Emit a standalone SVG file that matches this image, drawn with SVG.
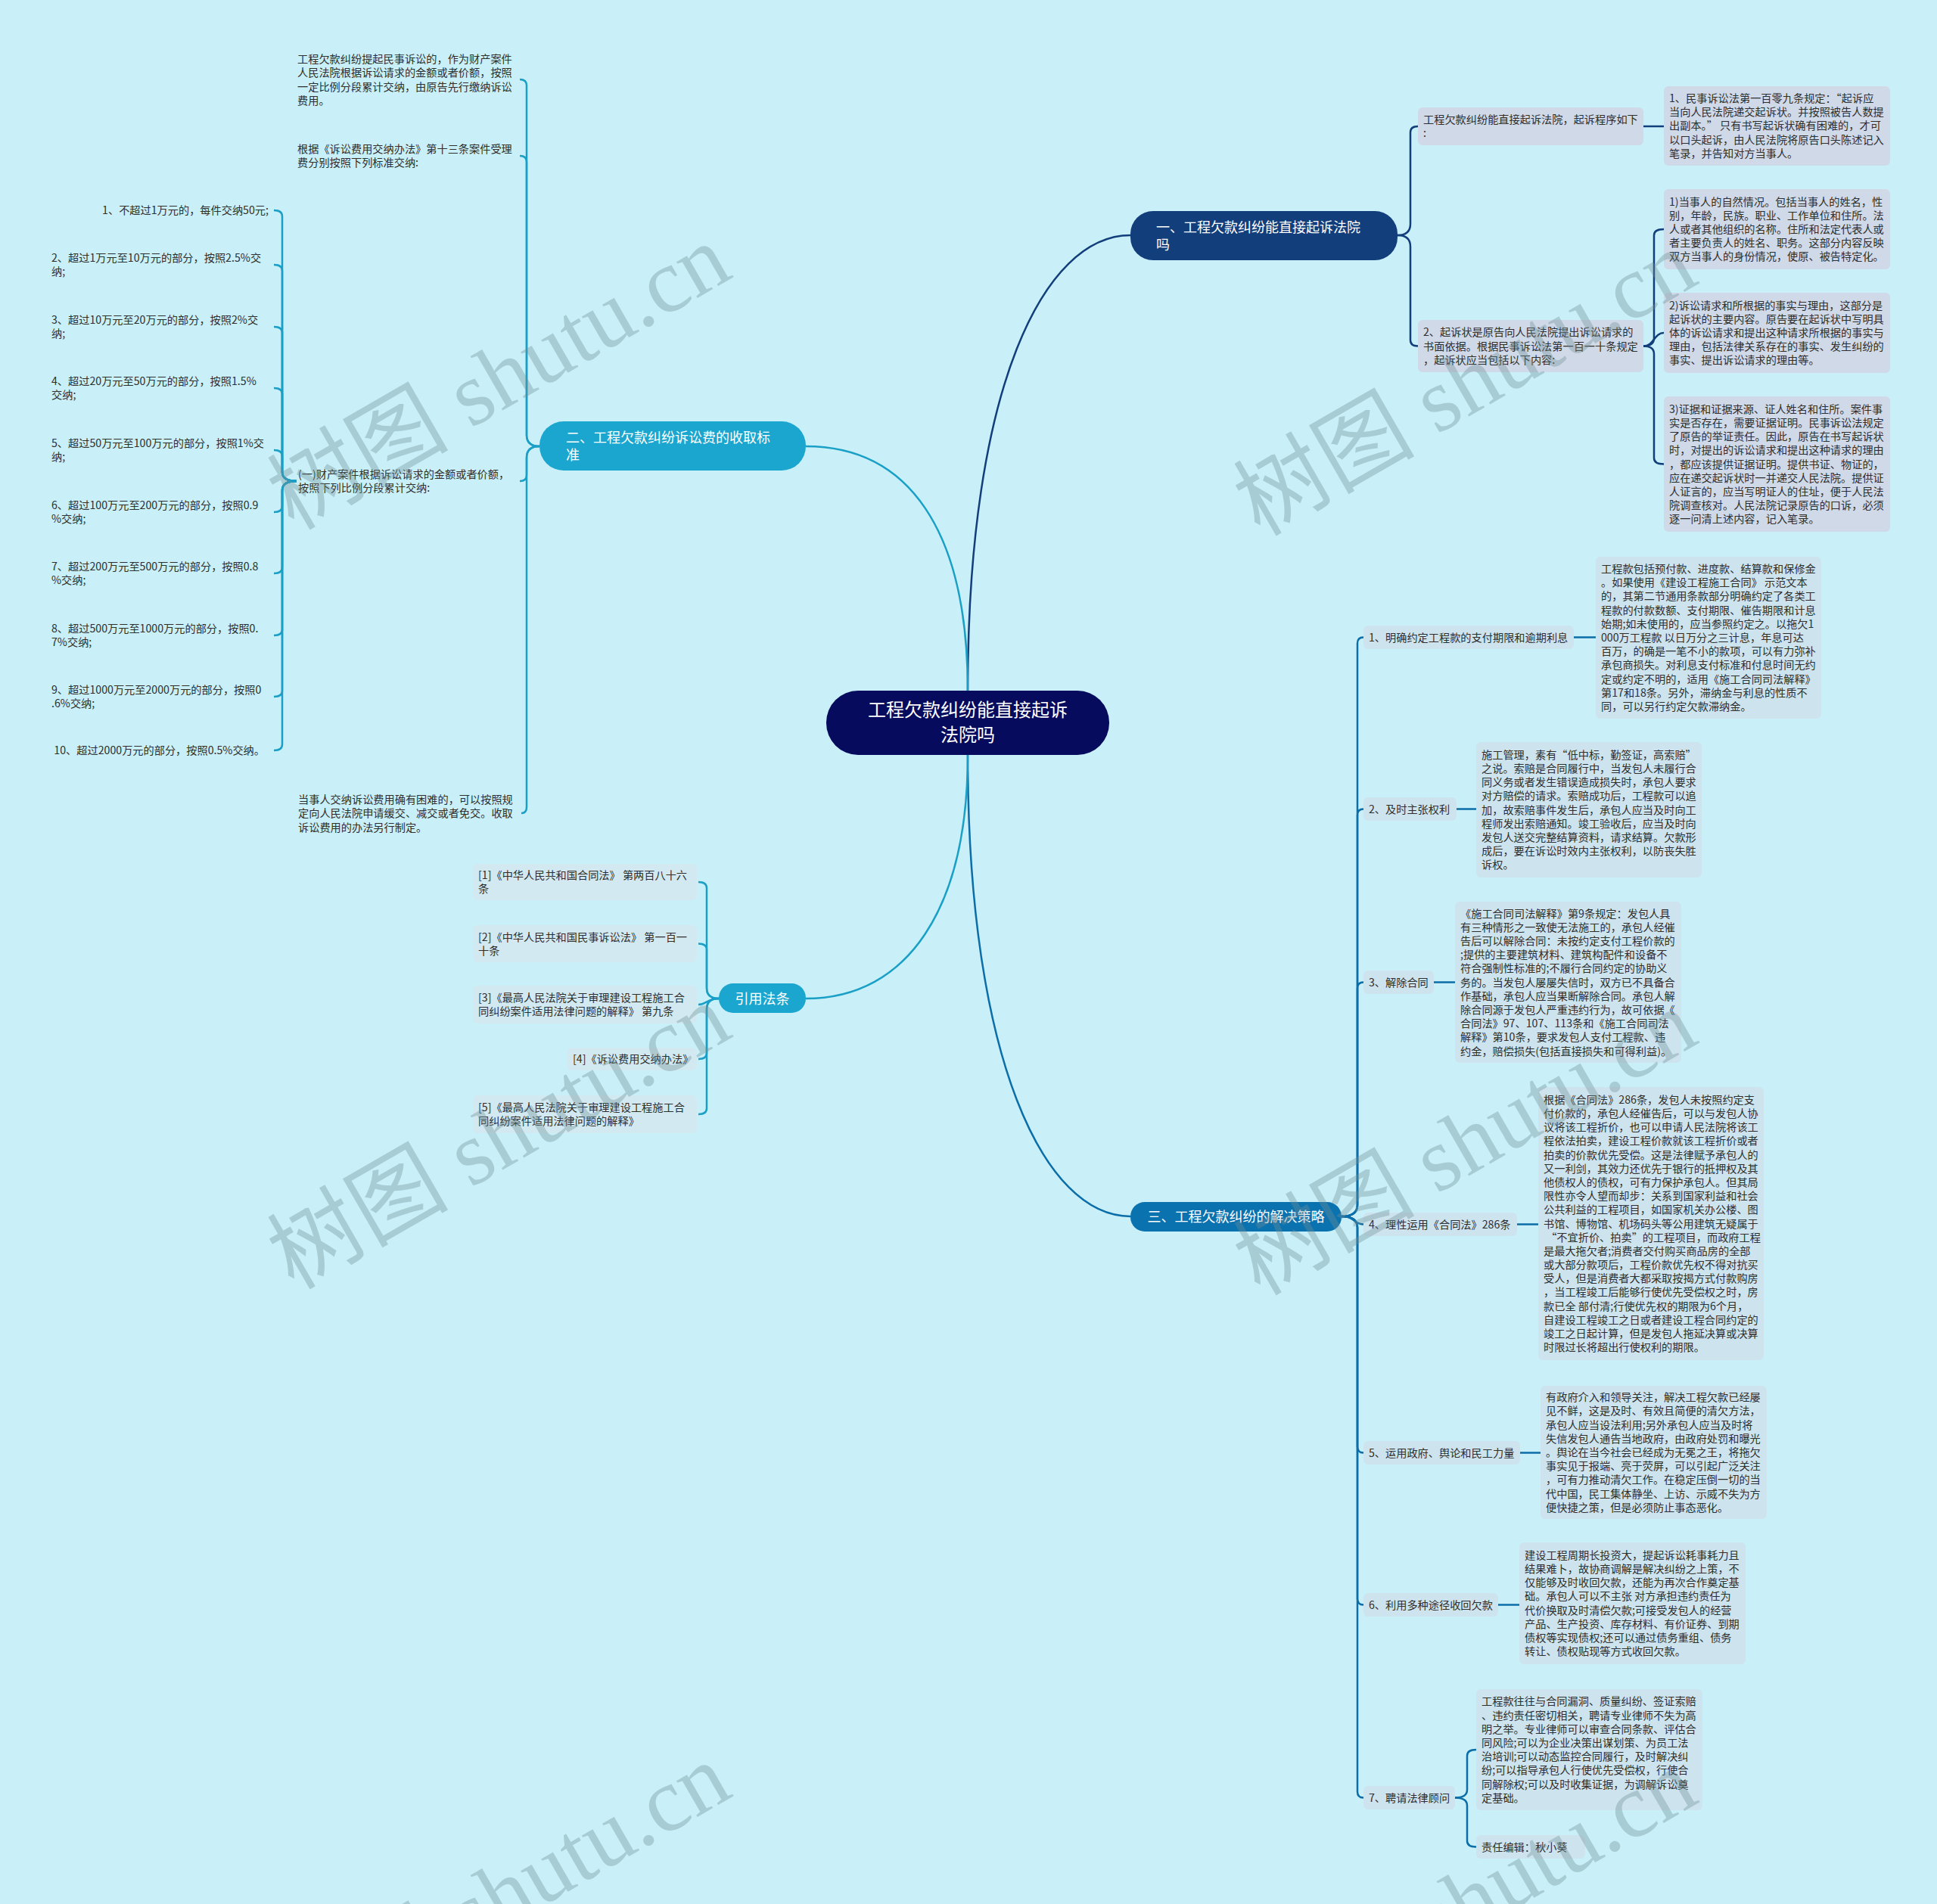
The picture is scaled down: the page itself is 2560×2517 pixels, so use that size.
<svg xmlns="http://www.w3.org/2000/svg" width="2560" height="2517" viewBox="0 0 2560 2517">
<style>
.t{font-family:"Noto Sans CJK SC","Liberation Sans",sans-serif;font-size:14.2px;fill:#2e2e2e}
.w{font-family:"Noto Sans CJK SC","Liberation Sans",sans-serif;fill:#ffffff}
.c1{fill:none;stroke:#133e7c;stroke-width:2.5}
.c2{fill:none;stroke:#1a9fc6;stroke-width:2.5}
.c3{fill:none;stroke:#0b6ea8;stroke-width:2.5}
.b1{fill:#cfd9e8}
.b3{fill:#cde4ef}
.br{fill:#d2e9f1}
.wm{font-family:"Liberation Serif","Noto Sans CJK SC",serif;font-size:120px;fill:#6f8c96;fill-opacity:0.36}
</style>
<rect x="0" y="0" width="2560" height="2517" fill="#c9f0f8"/>

<g id="connectors">
<path class="c1" d="M1279 913 C1279 511 1380 311 1494 311"/>
<path class="c2" d="M1279 913 C1279 700 1200 590 1065 590"/>
<path class="c3" d="M1279 998 C1279 1400 1380 1608 1494 1608"/>
<path class="c2" d="M1279 998 C1279 1200 1200 1320 1065 1320"/>
<path class="c1" d="M1847 311 Q1864 311 1864 296 L1864 175 Q1864 167 1874 167"/>
<path class="c1" d="M1847 311 Q1864 311 1864 326 L1864 449.5 Q1864 457.5 1874 457.5"/>
<path class="c1" d="M2172 167 L2199 167"/>
<path class="c1" d="M2172 457.5 Q2186 457.5 2186 447 L2186 311 Q2186 303 2199 303"/>
<path class="c1" d="M2172 457.5 C2186 457.5 2186 440 2199 440"/>
<path class="c1" d="M2172 457.5 Q2186 457.5 2186 468 L2186 605.5 Q2186 613.5 2199 613.5"/>
<path class="c2" d="M713 590 Q696 590 696 575 L696 113 Q696 105 687 105"/>
<path class="c2" d="M713 590 Q696 590 696 575 L696 214 Q696 206 687 206"/>
<path class="c2" d="M713 590 Q696 590 696 605 L696 628 Q696 636 687 636"/>
<path class="c2" d="M713 590 Q696 590 696 605 L696 1067 Q696 1075 689 1075"/>
<path class="c2" d="M392 636 L380 636"/>
<path class="c2" d="M392 636 Q373 636 373 624 L373 286 Q373 278 362 278"/>
<path class="c2" d="M392 636 Q373 636 373 624 L373 358 Q373 350 362 350"/>
<path class="c2" d="M392 636 Q373 636 373 624 L373 440 Q373 432 362 432"/>
<path class="c2" d="M392 636 Q373 636 373 624 L373 521 Q373 513 362 513"/>
<path class="c2" d="M392 636 Q373 636 373 624 L373 603 Q373 595 362 595"/>
<path class="c2" d="M392 636 Q373 636 373 648 L373 669 Q373 677 362 677"/>
<path class="c2" d="M392 636 Q373 636 373 648 L373 750 Q373 758 362 758"/>
<path class="c2" d="M392 636 Q373 636 373 648 L373 832 Q373 840 362 840"/>
<path class="c2" d="M392 636 Q373 636 373 648 L373 913 Q373 921 362 921"/>
<path class="c2" d="M392 636 Q373 636 373 648 L373 984 Q373 992 362 992"/>
<path class="c2" d="M950 1320 Q934 1320 934 1306 L934 1174 Q934 1166 923 1166"/>
<path class="c2" d="M950 1320 Q934 1320 934 1306 L934 1255.5 Q934 1247.5 923 1247.5"/>
<path class="c2" d="M950 1320 C934 1320 934 1328 923 1328"/>
<path class="c2" d="M950 1320 Q934 1320 934 1334 L934 1392 Q934 1400 923 1400"/>
<path class="c2" d="M950 1320 Q934 1320 934 1334 L934 1465 Q934 1473 923 1473"/>
<path class="c3" d="M1773 1608 Q1794 1608 1794 1593 L1794 850.5 Q1794 842.5 1802 842.5"/>
<path class="c3" d="M1773 1608 Q1794 1608 1794 1593 L1794 1077.5 Q1794 1069.5 1802 1069.5"/>
<path class="c3" d="M1773 1608 Q1794 1608 1794 1593 L1794 1306.5 Q1794 1298.5 1802 1298.5"/>
<path class="c3" d="M1773 1608 C1790 1608 1790 1618.5 1802 1618.5"/>
<path class="c3" d="M1773 1608 Q1794 1608 1794 1623 L1794 1912.5 Q1794 1920.5 1802 1920.5"/>
<path class="c3" d="M1773 1608 Q1794 1608 1794 1623 L1794 2113.5 Q1794 2121.5 1802 2121.5"/>
<path class="c3" d="M1773 1608 Q1794 1608 1794 1623 L1794 2368.5 Q1794 2376.5 1802 2376.5"/>
<path class="c3" d="M2080 842.5 L2109 842.5"/>
<path class="c3" d="M1925 1069.5 L1951 1069.5"/>
<path class="c3" d="M1895 1298.5 L1923 1298.5"/>
<path class="c3" d="M2005 1618.5 L2033 1618.5"/>
<path class="c3" d="M2009 1920.5 L2036 1920.5"/>
<path class="c3" d="M1980 2121.5 L2008 2121.5"/>
<path class="c3" d="M1923 2376.5 Q1939 2376.5 1939 2366 L1939 2321 Q1939 2313 1951 2313"/>
<path class="c3" d="M1923 2376.5 Q1939 2376.5 1939 2387 L1939 2433.5 Q1939 2441.5 1951 2441.5"/>
</g>

<g id="center">
<rect x="1092" y="913" width="374" height="85" rx="42" fill="#070b5e"/>
<text class="w" font-size="24" text-anchor="middle"><tspan x="1279" y="947">工程欠款纠纷能直接起诉</tspan><tspan x="1279" y="980">法院吗</tspan></text>
</g>

<g id="branch1">
<rect x="1494" y="279" width="353" height="65" rx="30" fill="#133e7c"/>
<text class="w" font-size="18"><tspan x="1528" y="307">一、工程欠款纠纷能直接起诉法院</tspan><tspan x="1528" y="330">吗</tspan></text>
</g>
<g id="b1-c1">
<rect class="b1" x="1874" y="142" width="298" height="50" rx="6"/>
<text class="t"><tspan x="1881" y="163">工程欠款纠纷能直接起诉法院，起诉程序如下</tspan><tspan x="1881" dy="18.2">:</tspan></text>
</g>
<g id="b1-c1-d">
<rect class="b1" x="2199" y="114" width="299" height="105" rx="6"/>
<text class="t"><tspan x="2206" y="135">1、民事诉讼法第一百零九条规定：“起诉应</tspan><tspan x="2206" dy="18.2">当向人民法院递交起诉状。并按照被告人数提</tspan><tspan x="2206" dy="18.2">出副本。” 只有书写起诉状确有困难的，才可</tspan><tspan x="2206" dy="18.2">以口头起诉，由人民法院将原告口头陈述记入</tspan><tspan x="2206" dy="18.2">笔录，并告知对方当事人。</tspan></text>
</g>
<g id="b1-c2">
<rect class="b1" x="1874" y="423" width="298" height="69" rx="6"/>
<text class="t"><tspan x="1881" y="444.3">2、起诉状是原告向人民法院提出诉讼请求的</tspan><tspan x="1881" dy="18.2">书面依据。根据民事诉讼法第一百一十条规定</tspan><tspan x="1881" dy="18.2">，起诉状应当包括以下内容:</tspan></text>
</g>
<g id="b1-c2-d1">
<rect class="b1" x="2199" y="250" width="299" height="106" rx="6"/>
<text class="t"><tspan x="2206" y="271.6">1)当事人的自然情况。包括当事人的姓名，性</tspan><tspan x="2206" dy="18.2">别，年龄，民族。职业、工作单位和住所。法</tspan><tspan x="2206" dy="18.2">人或者其他组织的名称。住所和法定代表人或</tspan><tspan x="2206" dy="18.2">者主要负责人的姓名、职务。这部分内容反映</tspan><tspan x="2206" dy="18.2">双方当事人的身份情况，使原、被告特定化。</tspan></text>
</g>
<g id="b1-c2-d2">
<rect class="b1" x="2199" y="387" width="299" height="106" rx="6"/>
<text class="t"><tspan x="2206" y="408.6">2)诉讼请求和所根据的事实与理由，这部分是</tspan><tspan x="2206" dy="18.2">起诉状的主要内容。原告要在起诉状中写明具</tspan><tspan x="2206" dy="18.2">体的诉讼请求和提出这种请求所根据的事实与</tspan><tspan x="2206" dy="18.2">理由，包括法律关系存在的事实、发生纠纷的</tspan><tspan x="2206" dy="18.2">事实、提出诉讼请求的理由等。</tspan></text>
</g>
<g id="b1-c2-d3">
<rect class="b1" x="2199" y="524" width="299" height="179" rx="6"/>
<text class="t"><tspan x="2206" y="545.7">3)证据和证据来源、证人姓名和住所。案件事</tspan><tspan x="2206" dy="18.2">实是否存在，需要证据证明。民事诉讼法规定</tspan><tspan x="2206" dy="18.2">了原告的举证责任。因此，原告在书写起诉状</tspan><tspan x="2206" dy="18.2">时，对提出的诉讼请求和提出这种请求的理由</tspan><tspan x="2206" dy="18.2">，都应该提供证据证明。提供书证、物证的，</tspan><tspan x="2206" dy="18.2">应在递交起诉状时一并递交人民法院。提供证</tspan><tspan x="2206" dy="18.2">人证言的，应当写明证人的住址，便于人民法</tspan><tspan x="2206" dy="18.2">院调查核对。人民法院记录原告的口诉，必须</tspan><tspan x="2206" dy="18.2">逐一问清上述内容，记入笔录。</tspan></text>
</g>

<g id="branch2">
<rect x="713" y="557" width="352" height="65" rx="32" fill="#1aa6cf"/>
<text class="w" font-size="18"><tspan x="748" y="585">二、工程欠款纠纷诉讼费的收取标</tspan><tspan x="748" y="608">准</tspan></text>
</g>
<g id="b2-a">
<text class="t"><tspan x="393" y="83">工程欠款纠纷提起民事诉讼的，作为财产案件</tspan><tspan x="393" dy="18.3">人民法院根据诉讼请求的金额或者价额，按照</tspan><tspan x="393" dy="18.3">一定比例分段累计交纳，由原告先行缴纳诉讼</tspan><tspan x="393" dy="18.3">费用。</tspan></text>
</g>
<g id="b2-b">
<text class="t"><tspan x="393" y="202">根据《诉讼费用交纳办法》第十三条案件受理</tspan><tspan x="393" dy="18.3">费分别按照下列标准交纳:</tspan></text>
</g>
<g id="b2-c">
<text class="t"><tspan x="394" y="632">(一)财产案件根据诉讼请求的金额或者价额，</tspan><tspan x="394" dy="18.3">按照下列比例分段累计交纳:</tspan></text>
</g>
<g id="b2-d">
<text class="t"><tspan x="394" y="1062">当事人交纳诉讼费用确有困难的，可以按照规</tspan><tspan x="394" dy="18.3">定向人民法院申请缓交、减交或者免交。收取</tspan><tspan x="394" dy="18.3">诉讼费用的办法另行制定。</tspan></text>
</g>
<g id="b2-items">
<text class="t" x="355" y="283" text-anchor="end">1、不超过1万元的，每件交纳50元;</text>
<text class="t"><tspan x="68" y="346">2、超过1万元至10万元的部分，按照2.5%交</tspan><tspan x="68" dy="18.2">纳;</tspan></text>
<text class="t"><tspan x="68" y="428">3、超过10万元至20万元的部分，按照2%交</tspan><tspan x="68" dy="18.2">纳;</tspan></text>
<text class="t"><tspan x="68" y="509">4、超过20万元至50万元的部分，按照1.5%</tspan><tspan x="68" dy="18.2">交纳;</tspan></text>
<text class="t"><tspan x="68" y="591">5、超过50万元至100万元的部分，按照1%交</tspan><tspan x="68" dy="18.2">纳;</tspan></text>
<text class="t"><tspan x="68" y="673">6、超过100万元至200万元的部分，按照0.9</tspan><tspan x="68" dy="18.2">%交纳;</tspan></text>
<text class="t"><tspan x="68" y="754">7、超过200万元至500万元的部分，按照0.8</tspan><tspan x="68" dy="18.2">%交纳;</tspan></text>
<text class="t"><tspan x="68" y="836">8、超过500万元至1000万元的部分，按照0.</tspan><tspan x="68" dy="18.2">7%交纳;</tspan></text>
<text class="t"><tspan x="68" y="917">9、超过1000万元至2000万元的部分，按照0</tspan><tspan x="68" dy="18.2">.6%交纳;</tspan></text>
<text class="t" x="350" y="997" text-anchor="end">10、超过2000万元的部分，按照0.5%交纳。</text>
</g>

<g id="branch4">
<rect x="950" y="1300" width="115" height="39" rx="19" fill="#1aa6cf"/>
<text class="w" font-size="18" x="1007.5" y="1327" text-anchor="middle">引用法条</text>
</g>
<g id="r1">
<rect class="br" x="625" y="1142" width="296" height="48" rx="6"/>
<text class="t"><tspan x="632" y="1162">[1]《中华人民共和国合同法》 第两百八十六</tspan><tspan x="632" dy="18.2">条</tspan></text>
</g>
<g id="r2">
<rect class="br" x="625" y="1223" width="296" height="49" rx="6"/>
<text class="t"><tspan x="632" y="1243.5">[2]《中华人民共和国民事诉讼法》 第一百一</tspan><tspan x="632" dy="18.2">十条</tspan></text>
</g>
<g id="r3">
<rect class="br" x="625" y="1303" width="296" height="50" rx="6"/>
<text class="t"><tspan x="632" y="1324">[3]《最高人民法院关于审理建设工程施工合</tspan><tspan x="632" dy="18.2">同纠纷案件适用法律问题的解释》 第九条</tspan></text>
</g>
<g id="r4">
<rect class="br" x="750" y="1385" width="171" height="30" rx="6"/>
<text class="t" x="757" y="1405">[4]《诉讼费用交纳办法》</text>
</g>
<g id="r5">
<rect class="br" x="625" y="1448" width="296" height="50" rx="6"/>
<text class="t"><tspan x="632" y="1469">[5]《最高人民法院关于审理建设工程施工合</tspan><tspan x="632" dy="18.2">同纠纷案件适用法律问题的解释》</tspan></text>
</g>

<g id="branch3">
<rect x="1494" y="1589" width="279" height="39" rx="19" fill="#0b72b0"/>
<text class="w" font-size="18" x="1633.5" y="1615" text-anchor="middle">三、工程欠款纠纷的解决策略</text>
</g>
<g id="s1">
<rect class="b3" x="1802" y="827" width="278" height="31" rx="6"/>
<text class="t" x="1809" y="847.5">1、明确约定工程款的支付期限和逾期利息</text>
</g>
<g id="d1">
<rect class="b3" x="2109" y="736" width="298" height="214" rx="6"/>
<text class="t"><tspan x="2116" y="757">工程款包括预付款、进度款、结算款和保修金</tspan><tspan x="2116" dy="18.2">。如果使用《建设工程施工合同》 示范文本</tspan><tspan x="2116" dy="18.2">的，其第二节通用条款部分明确约定了各类工</tspan><tspan x="2116" dy="18.2">程款的付款数额、支付期限、催告期限和计息</tspan><tspan x="2116" dy="18.2">始期;如未使用的，应当参照约定之。以拖欠1</tspan><tspan x="2116" dy="18.2">000万工程款 以日万分之三计息，年息可达</tspan><tspan x="2116" dy="18.2">百万，的确是一笔不小的款项，可以有力弥补</tspan><tspan x="2116" dy="18.2">承包商损失。对利息支付标准和付息时间无约</tspan><tspan x="2116" dy="18.2">定或约定不明的，适用《施工合同司法解释》</tspan><tspan x="2116" dy="18.2">第17和18条。另外，滞纳金与利息的性质不</tspan><tspan x="2116" dy="18.2">同，可以另行约定欠款滞纳金。</tspan></text>
</g>
<g id="s2">
<rect class="b3" x="1802" y="1054" width="123" height="31" rx="6"/>
<text class="t" x="1809" y="1074.5">2、及时主张权利</text>
</g>
<g id="d2">
<rect class="b3" x="1951" y="981" width="298" height="179" rx="6"/>
<text class="t"><tspan x="1958" y="1002.7">施工管理，素有“低中标，勤签证，高索赔”</tspan><tspan x="1958" dy="18.2">之说。索赔是合同履行中，当发包人未履行合</tspan><tspan x="1958" dy="18.2">同义务或者发生错误造成损失时，承包人要求</tspan><tspan x="1958" dy="18.2">对方赔偿的请求。索赔成功后，工程款可以追</tspan><tspan x="1958" dy="18.2">加，故索赔事件发生后，承包人应当及时向工</tspan><tspan x="1958" dy="18.2">程师发出索赔通知。竣工验收后，应当及时向</tspan><tspan x="1958" dy="18.2">发包人送交完整结算资料，请求结算。欠款形</tspan><tspan x="1958" dy="18.2">成后，要在诉讼时效内主张权利，以防丧失胜</tspan><tspan x="1958" dy="18.2">诉权。</tspan></text>
</g>
<g id="s3">
<rect class="b3" x="1802" y="1283" width="93" height="31" rx="6"/>
<text class="t" x="1809" y="1303.5">3、解除合同</text>
</g>
<g id="d3">
<rect class="b3" x="1923" y="1192" width="299" height="213" rx="6"/>
<text class="t"><tspan x="1930" y="1212.5">《施工合同司法解释》第9条规定：发包人具</tspan><tspan x="1930" dy="18.2">有三种情形之一致使无法施工的，承包人经催</tspan><tspan x="1930" dy="18.2">告后可以解除合同：未按约定支付工程价款的</tspan><tspan x="1930" dy="18.2">;提供的主要建筑材料、建筑构配件和设备不</tspan><tspan x="1930" dy="18.2">符合强制性标准的;不履行合同约定的协助义</tspan><tspan x="1930" dy="18.2">务的。当发包人屡屡失信时，双方已不具备合</tspan><tspan x="1930" dy="18.2">作基础，承包人应当果断解除合同。承包人解</tspan><tspan x="1930" dy="18.2">除合同源于发包人严重违约行为，故可依据《</tspan><tspan x="1930" dy="18.2">合同法》97、107、113条和《施工合同司法</tspan><tspan x="1930" dy="18.2">解释》第10条，要求发包人支付工程款、违</tspan><tspan x="1930" dy="18.2">约金，赔偿损失(包括直接损失和可得利益)。</tspan></text>
</g>
<g id="s4">
<rect class="b3" x="1802" y="1603" width="203" height="31" rx="6"/>
<text class="t" x="1809" y="1623.5">4、理性运用《合同法》286条</text>
</g>
<g id="d4">
<rect class="b3" x="2033" y="1437" width="298" height="361" rx="6"/>
<text class="t"><tspan x="2040" y="1458.7">根据《合同法》286条，发包人未按照约定支</tspan><tspan x="2040" dy="18.2">付价款的，承包人经催告后，可以与发包人协</tspan><tspan x="2040" dy="18.2">议将该工程折价，也可以申请人民法院将该工</tspan><tspan x="2040" dy="18.2">程依法拍卖，建设工程价款就该工程折价或者</tspan><tspan x="2040" dy="18.2">拍卖的价款优先受偿。这是法律赋予承包人的</tspan><tspan x="2040" dy="18.2">又一利剑，其效力还优先于银行的抵押权及其</tspan><tspan x="2040" dy="18.2">他债权人的债权，可有力保护承包人。但其局</tspan><tspan x="2040" dy="18.2">限性亦令人望而却步：关系到国家利益和社会</tspan><tspan x="2040" dy="18.2">公共利益的工程项目，如国家机关办公楼、图</tspan><tspan x="2040" dy="18.2">书馆、博物馆、机场码头等公用建筑无疑属于</tspan><tspan x="2040" dy="18.2"> “不宜折价、拍卖”的工程项目，而政府工程</tspan><tspan x="2040" dy="18.2">是最大拖欠者;消费者交付购买商品房的全部</tspan><tspan x="2040" dy="18.2">或大部分款项后，工程价款优先权不得对抗买</tspan><tspan x="2040" dy="18.2">受人，但是消费者大都采取按揭方式付款购房</tspan><tspan x="2040" dy="18.2">，当工程竣工后能够行使优先受偿权之时，房</tspan><tspan x="2040" dy="18.2">款已全 部付清;行使优先权的期限为6个月，</tspan><tspan x="2040" dy="18.2">自建设工程竣工之日或者建设工程合同约定的</tspan><tspan x="2040" dy="18.2">竣工之日起计算，但是发包人拖延决算或决算</tspan><tspan x="2040" dy="18.2">时限过长将超出行使权利的期限。</tspan></text>
</g>
<g id="s5">
<rect class="b3" x="1802" y="1905" width="207" height="31" rx="6"/>
<text class="t" x="1809" y="1925.5">5、运用政府、舆论和民工力量</text>
</g>
<g id="d5">
<rect class="b3" x="2036" y="1832" width="299" height="176" rx="6"/>
<text class="t"><tspan x="2043" y="1852.2">有政府介入和领导关注，解决工程欠款已经屡</tspan><tspan x="2043" dy="18.2">见不鲜，这是及时、有效且简便的清欠方法，</tspan><tspan x="2043" dy="18.2">承包人应当设法利用;另外承包人应当及时将</tspan><tspan x="2043" dy="18.2">失信发包人通告当地政府，由政府处罚和曝光</tspan><tspan x="2043" dy="18.2">。舆论在当今社会已经成为无冕之王，将拖欠</tspan><tspan x="2043" dy="18.2">事实见于报端、亮于荧屏，可以引起广泛关注</tspan><tspan x="2043" dy="18.2">，可有力推动清欠工作。在稳定压倒一切的当</tspan><tspan x="2043" dy="18.2">代中国，民工集体静坐、上访、示威不失为方</tspan><tspan x="2043" dy="18.2">便快捷之策，但是必须防止事态恶化。</tspan></text>
</g>
<g id="s6">
<rect class="b3" x="1802" y="2106" width="178" height="31" rx="6"/>
<text class="t" x="1809" y="2126.5">6、利用多种途径收回欠款</text>
</g>
<g id="d6">
<rect class="b3" x="2008" y="2039" width="299" height="161" rx="6"/>
<text class="t"><tspan x="2015" y="2060.8">建设工程周期长投资大，提起诉讼耗事耗力且</tspan><tspan x="2015" dy="18.2">结果难卜，故协商调解是解决纠纷之上策，不</tspan><tspan x="2015" dy="18.2">仅能够及时收回欠款，还能为再次合作奠定基</tspan><tspan x="2015" dy="18.2">础。承包人可以不主张 对方承担违约责任为</tspan><tspan x="2015" dy="18.2">代价换取及时清偿欠款;可接受发包人的经营</tspan><tspan x="2015" dy="18.2">产品、生产投资、库存材料、有价证券、到期</tspan><tspan x="2015" dy="18.2">债权等实现债权;还可以通过债务重组、债务</tspan><tspan x="2015" dy="18.2">转让、债权贴现等方式收回欠款。</tspan></text>
</g>
<g id="s7">
<rect class="b3" x="1802" y="2361" width="121" height="31" rx="6"/>
<text class="t" x="1809" y="2381.5">7、聘请法律顾问</text>
</g>
<g id="d7a">
<rect class="b3" x="1951" y="2233" width="299" height="160" rx="6"/>
<text class="t"><tspan x="1958" y="2254.3">工程款往往与合同漏洞、质量纠纷、签证索赔</tspan><tspan x="1958" dy="18.2">、违约责任密切相关，聘请专业律师不失为高</tspan><tspan x="1958" dy="18.2">明之举。专业律师可以审查合同条款、评估合</tspan><tspan x="1958" dy="18.2">同风险;可以为企业决策出谋划策、为员工法</tspan><tspan x="1958" dy="18.2">治培训;可以动态监控合同履行，及时解决纠</tspan><tspan x="1958" dy="18.2">纷;可以指导承包人行使优先受偿权，行使合</tspan><tspan x="1958" dy="18.2">同解除权;可以及时收集证据，为调解诉讼奠</tspan><tspan x="1958" dy="18.2">定基础。</tspan></text>
</g>
<g id="d7b">
<rect class="b3" x="1951" y="2426" width="144" height="31" rx="6"/>
<text class="t" x="1958" y="2446.5">责任编辑：秋小葵</text>
</g>

<g id="watermark">
<text class="wm" transform="translate(388 702) rotate(-30)">树图 shutu.cn</text>
<text class="wm" transform="translate(1665 710) rotate(-30)">树图 shutu.cn</text>
<text class="wm" transform="translate(388 1706) rotate(-30)">树图 shutu.cn</text>
<text class="wm" transform="translate(1665 1714) rotate(-30)">树图 shutu.cn</text>
<text class="wm" transform="translate(388 2710) rotate(-30)">树图 shutu.cn</text>
<text class="wm" transform="translate(1665 2718) rotate(-30)">树图 shutu.cn</text>
</g>
</svg>
